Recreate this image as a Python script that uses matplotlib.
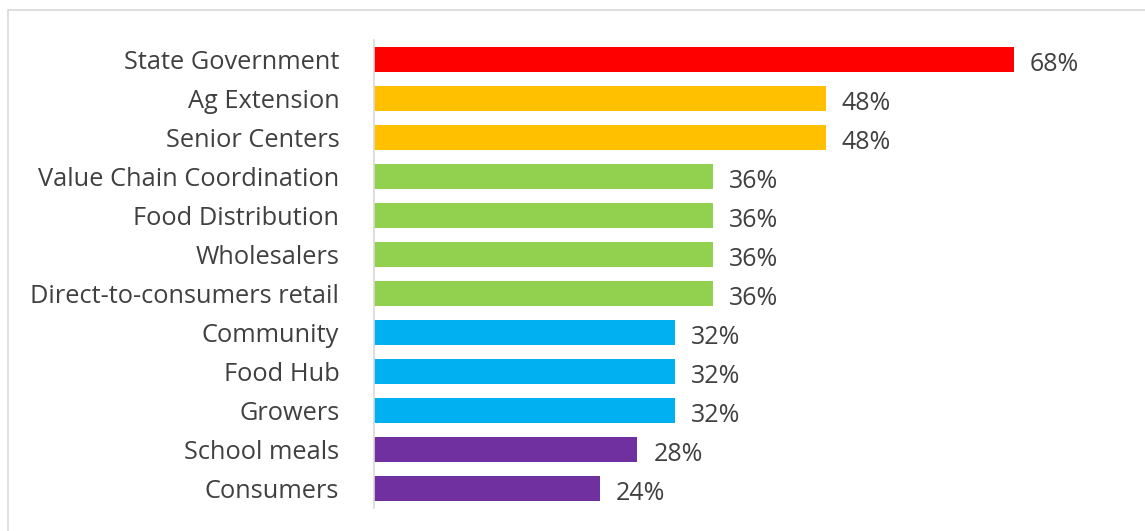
import matplotlib.pyplot as plt
from matplotlib.patches import Rectangle

categories = ['State Government', 'Ag Extension', 'Senior Centers',
              'Value Chain Coordination', 'Food Distribution', 'Wholesalers',
              'Direct-to-consumers retail', 'Community', 'Food Hub', 'Growers',
              'School meals', 'Consumers']
values = [68, 48, 48, 36, 36, 36, 36, 32, 32, 32, 28, 24]
colors = ['#FF0000', '#FFC000', '#FFC000', '#92D050', '#92D050', '#92D050',
          '#92D050', '#00B0F0', '#00B0F0', '#00B0F0', '#7030A0', '#7030A0']

plt.rcParams['font.family'] = ['Open Sans', 'DejaVu Sans']
text_color = '#404040'

W, H = 1145, 531
fig = plt.figure(figsize=(W / 100, H / 100), dpi=100)

# light gray chart frame, cut off at right and bottom
fig.patches.append(Rectangle((8 / W, -0.2), 1.2, 1.2 - 10 / H, transform=fig.transFigure,
                             fill=False, edgecolor='#D9D9D9', linewidth=1.2))

ax = fig.add_axes([374 / W, 1 - 508 / H, 726 / W, 468 / H])
y = list(range(len(categories)))
ax.barh(y, values, height=0.62, color=colors)
ax.set_ylim(len(categories) - 0.5, -0.5)
ax.set_xlim(0, 726 / 9.41)

ax.set_yticks(y)
ax.set_yticklabels(categories, fontsize=18.3, color=text_color)
ax.tick_params(axis='y', length=0, pad=25)
ax.set_xticks([])

for s in ['top', 'right', 'bottom']:
    ax.spines[s].set_visible(False)
ax.spines['left'].set_color('#D9D9D9')
ax.spines['left'].set_linewidth(1.2)

for yi, v in zip(y, values):
    ax.text(v + 1.7, yi + 0.05, f'{v}%', va='center_baseline', ha='left',
            fontsize=18, color=text_color)

fig.savefig('out.png', dpi=100)
